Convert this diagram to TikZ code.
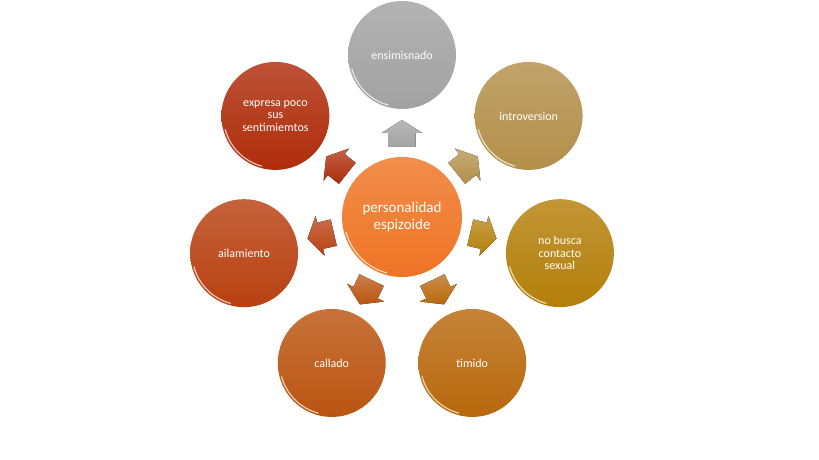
\documentclass[tikz,border=0pt]{standalone}
\usepackage{fontspec}
\setmainfont{Carlito}
\usetikzlibrary{calc}
\definecolor{cGris}{HTML}{A2A2A2}
\definecolor{cIntro}{HTML}{B38F4A}
\definecolor{cBusca}{HTML}{B47F0A}
\definecolor{cTimido}{HTML}{B8680C}
\definecolor{cCallado}{HTML}{BA5410}
\definecolor{cAisla}{HTML}{B84010}
\definecolor{cExpresa}{HTML}{AE2C0A}
\definecolor{cCentro}{HTML}{EF7424}
\begin{document}
\begin{tikzpicture}[x=1pt,y=1pt,
	burbuja/.style={circle, minimum size=108, inner sep=0, text=white,
		align=center, font=\fontsize{12}{12.7}\selectfont},
	brillo/.style={white, line width=1.2, opacity=0.7}]
	\useasboundingbox (0,0) rectangle (819,460);
	% Mitte
	\node[circle, minimum size=120, inner sep=0, text=white, align=center,
		font=\fontsize{15}{16.5}\selectfont,
		top color=cCentro!82!white, bottom color=cCentro] (centro) at (402,243)
		{personalidad\\espizoide};
	\draw[brillo] (centro.center) ++(195:58) arc[start angle=195, end angle=255, radius=58];
	% Pfeile
	\foreach \a/\c in {90/cGris, 38.6/cIntro, -12.9/cBusca, -64.3/cTimido,
		-115.7/cCallado, -167.1/cAisla, 141.4/cExpresa}
		\fill[shift={(centro)}, rotate=\a, top color=\c!75!white, bottom color=\c]
			(70,-13.5) -- (84,-13.5) -- (84,-20.5) -- (97,0) -- (84,20.5)
			-- (84,13.5) -- (70,13.5) -- cycle;
	% Kreise aussen
	\foreach \a/\n/\c/\t in {90/ensim/cGris/ensimisnado,
		38.6/intro/cIntro/introversion,
		-12.9/nobusca/cBusca/{no busca\\contacto\\sexual},
		-64.3/timido/cTimido/timido,
		-115.7/callado/cCallado/callado,
		-167.1/aisla/cAisla/ailamiento,
		141.4/expresa/cExpresa/{expresa poco\\sus\\sentimiemtos}}
	{
		\node[burbuja, top color=\c!82!white, bottom color=\c] (\n)
			at ($(centro)+(\a:162)$) {\t};
		\draw[brillo] (\n.center) ++(195:52) arc[start angle=195, end angle=255, radius=52];
	}
\end{tikzpicture}
\end{document}
